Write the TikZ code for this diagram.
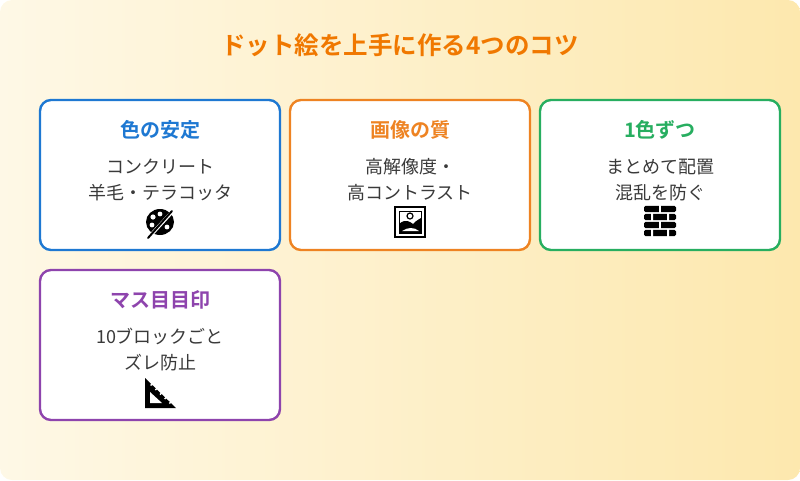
\documentclass[tikz,border=0pt]{standalone}
\usepackage{fontspec}
\usetikzlibrary{calc}
\setmainfont{Noto Sans CJK JP}[BoldFont={Noto Sans CJK JP Bold}]
\definecolor{cblue}{HTML}{1E78D2}
\definecolor{corange}{HTML}{EE8322}
\definecolor{cgreen}{HTML}{27AE60}
\definecolor{cpurple}{HTML}{8E44AD}
\definecolor{ctitle}{HTML}{F07800}
\definecolor{ctext}{HTML}{3A3A3A}
\definecolor{bgA}{HTML}{FEF8E6}
\definecolor{bgB}{HTML}{FDE8AE}
\begin{document}
\begin{tikzpicture}[x=1pt,y=-1pt,
 card/.style={draw=#1,line width=2.4pt,rounded corners=11pt,fill=white},
 ctitle/.style={font=\fontsize{20}{22}\selectfont\bfseries,text=#1},
 body/.style={font=\fontsize{18}{26}\selectfont,text=ctext,align=center}]
\useasboundingbox (0,0) rectangle (800,480);
\shade[rounded corners=12pt,shading angle=135,left color=bgA,right color=bgB] (0,0) rectangle (800,480);
\node[font=\fontsize{24.5}{28}\selectfont\bfseries,text=ctitle] (title) at (400,45) {ドット絵を上手に作る4つのコツ};
% cards
\draw[card=cblue] (40,100) rectangle (280,250);
\draw[card=corange] (290,100) rectangle (530,250);
\draw[card=cgreen] (540,100) rectangle (780,250);
\draw[card=cpurple] (40,270) rectangle (280,420);
\node[ctitle=cblue] (t1) at (160,130) {色の安定};
\node[ctitle=corange] (t2) at (410,130) {画像の質};
\node[ctitle=cgreen] (t3) at (660,130) {1色ずつ};
\node[ctitle=cpurple] (t4) at (160,300) {マス目目印};
\node[body] (b1) at (160,180) {コンクリート\\羊毛・テラコッタ};
\node[body] (b2) at (410,180) {高解像度・\\高コントラスト};
\node[body] (b3) at (660,180) {まとめて配置\\混乱を防ぐ};
\node[body] (b4) at (160,350) {10ブロックごと\\ズレ防止};
% icon palette
\begin{scope}[shift={(160,222)}]
\fill (0,0) ellipse (14 and 13);
\fill[white] (-7,-5) circle (2.6) (0,-8) circle (2.4) (-8,3) circle (2.4) (7,5) circle (2.4);
\draw[white,line width=3.5pt] (-10,14) -- (12,-10);
\draw[line width=2pt,line cap=round] (-12,16) -- (12,-11);
\end{scope}
% icon picture
\begin{scope}[shift={(410,222)}]
\draw[line width=2.2pt] (-15,-15) rectangle (15,15);
\draw[line width=1pt] (-11,-11) rectangle (11,11);
\draw[line width=1.2pt] (0,-6) circle (3);
\fill (-11,2) .. controls (-4,-4) and (0,0) .. (3,2) .. controls (6,-1) .. (11,-4) -- (11,11) -- (-11,11) -- cycle;
\fill[white] (-8,9) .. controls (-2,5) and (4,5) .. (9,9) -- cycle;
\end{scope}
% icon brick
\begin{scope}[shift={(660,222)}]
\foreach \y/\a in {-13/0,-5/1,3/0,11/1}{
 \ifnum\a=0
  \fill[rounded corners=1.5pt] (-16,\y-3.2) rectangle (16,\y+3.2);
  \fill[white] (-1,\y-4) rectangle (1,\y+4);
 \else
  \fill[rounded corners=1.5pt] (-16,\y-3.2) rectangle (16,\y+3.2);
  \fill[white] (-9,\y-4) rectangle (-7,\y+4) (7,\y-4) rectangle (9,\y+4);
 \fi}
\end{scope}
% icon set square
\begin{scope}[shift={(160,393)}]
\fill (-15,-15) -- (-15,15) -- (16,15) -- cycle;
\fill[white] (-10,-1) -- (-10,10) -- (2,10) -- cycle;
\foreach \t in {0.2,0.35,0.5,0.65,0.8}{
 \fill[white] ($(-15,-15)!\t!(16,15)$) ++(-1,1) -- ++(3,-3) -- ++(1,1) -- ++(-3,3) -- cycle;}
\end{scope}
\end{tikzpicture}
\end{document}
